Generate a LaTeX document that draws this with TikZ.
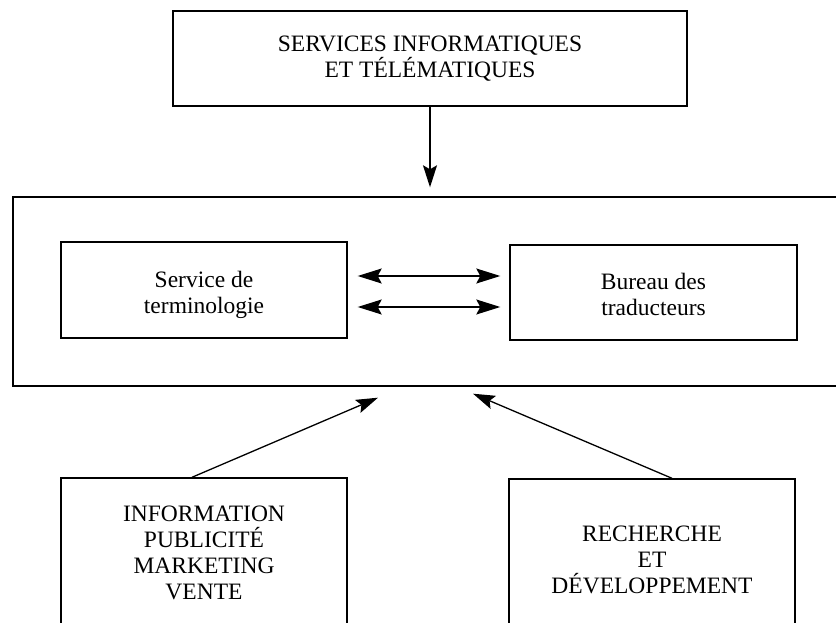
\documentclass[tikz,border=0pt]{standalone}
\usepackage{fontspec}
\setmainfont{Liberation Serif}
\usetikzlibrary{arrows.meta,calc}
\newcommand{\lowtxt}[1]{\raisebox{-5pt}[\height][\depth]{\begin{tabular}{@{}c@{}}#1\end{tabular}}}
\begin{document}
\begin{tikzpicture}[x=1pt,y=-1pt,
  boxst/.style={draw, line width=1.4pt, rectangle, inner sep=0pt, align=center,
    font=\fontsize{23.5}{26}\selectfont},
  arr/.style={line width=1.3pt, -{Stealth[length=22pt,width=14pt,inset=4pt]}},
  darr/.style={line width=1.3pt, {Stealth[length=24pt,width=15pt,inset=4pt]}-{Stealth[length=24pt,width=15pt,inset=4pt]}}]
\useasboundingbox (0,0) rectangle (836,623);
\clip (0,0) rectangle (836,623);
\fill[white] (0,0) rectangle (836,623);
% top box
\node[boxst, minimum width=514pt, minimum height=95pt] (top) at (430,58.5)
  {SERVICES INFORMATIQUES\\ET TÉLÉMATIQUES};
% big container
\node[boxst, minimum width=837pt, minimum height=189pt] (big) at (431.5,291.5) {};
% inner boxes
\node[boxst, minimum width=286pt, minimum height=96pt] (tl) at (204,290)
  {\lowtxt{Service de\\terminologie}};
\node[boxst, minimum width=287pt, minimum height=95pt] (tr) at (653.5,292.5)
  {\lowtxt{Bureau des\\traducteurs}};
% bottom boxes
\node[boxst, minimum width=286pt, minimum height=150pt] (bl) at (204,553)
  {INFORMATION\\PUBLICITÉ\\MARKETING\\VENTE};
\node[boxst, minimum width=286pt, minimum height=162pt] (br) at (652,560)
  {RECHERCHE\\ET\\DÉVELOPPEMENT};
% connectors
\draw[arr] (top.south) -- ($(top.south |- big.north)+(0,-9)$);
\draw[darr] ($(tl.east)+(10,-14)$) -- ($(tr.west |- tl.east)+(-9,-14)$);
\draw[darr] ($(tl.east)+(10,17)$) -- ($(tr.west |- tl.east)+(-9,17)$);
\draw[arr] ($(bl.north)+(-12,0)$) -- ($(big.south)+(-53.5,11)$);
\draw[arr] ($(br.north)+(20,0)$) -- ($(big.south)+(41.5,7)$);
\end{tikzpicture}
\end{document}
